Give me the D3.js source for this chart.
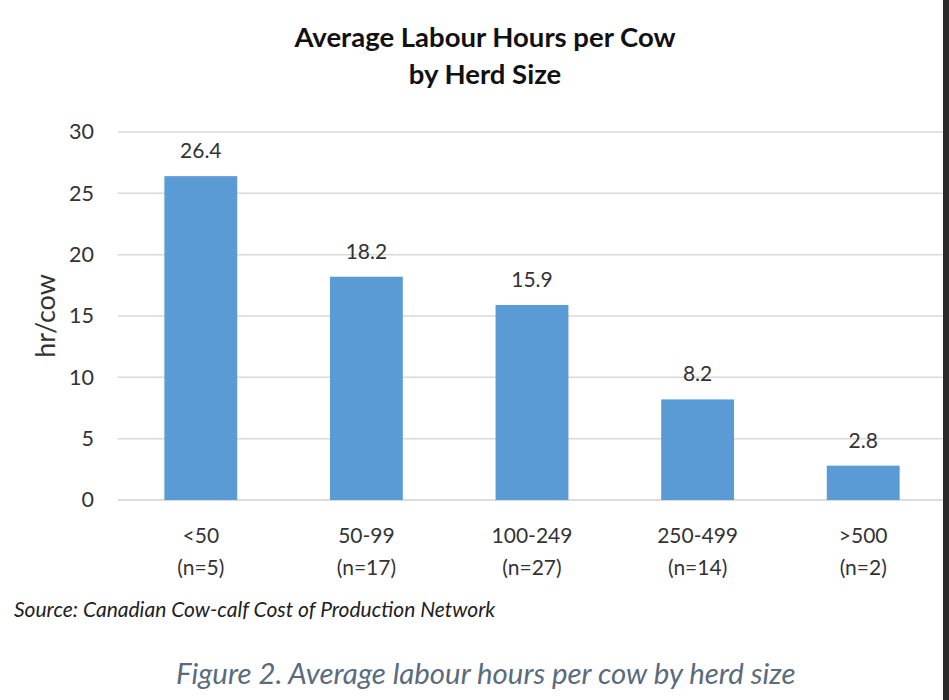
<!DOCTYPE html>
<html><head><meta charset="utf-8">
<script src="https://cdn.jsdelivr.net/npm/d3@7"></script>
<style>body{margin:0;background:#fff;}svg{display:block;}</style>
</head><body>
<script>
const categories = ["<50", "50-99", "100-249", "250-499", ">500"];
const sampleSizes = ["(n=5)", "(n=17)", "(n=27)", "(n=14)", "(n=2)"];
const values = [26.4, 18.2, 15.9, 8.2, 2.8];
const yTicks = [0, 5, 10, 15, 20, 25, 30];
const titleLines = ["Average Labour Hours per Cow", "by Herd Size"];
const yLabel = "hr/cow";
const sourceText = "Source: Canadian Cow-calf Cost of Production Network";
const captionText = "Figure 2. Average labour hours per cow by herd size";

const W = 949, H = 700;
const font = "Lato, 'Open Sans', sans-serif";
const textCol = "#333";
const svg = d3.select("body").append("svg").attr("width", W).attr("height", H);
svg.append("rect").attr("width", W).attr("height", H).attr("fill", "#fff");

const x = d3.scaleBand().domain(categories).range([118, 946]).paddingInner(0.56).paddingOuter(0.28);
const y = d3.scaleLinear().domain([0, 30]).range([500, 132]);

// gridlines
svg.append("g").selectAll("line").data(yTicks).join("line")
  .attr("x1", 118).attr("x2", 946)
  .attr("y1", d => y(d)).attr("y2", d => y(d))
  .attr("stroke", d => d === 0 ? "#d0d0d0" : "#d9d9d9").attr("stroke-width", 1.5);

// y axis labels
const yAxis = d3.axisLeft(y).tickValues(yTicks).tickSize(0).tickPadding(0);
const gy = svg.append("g").attr("transform", "translate(94,0)").call(yAxis);
gy.select(".domain").remove();
gy.selectAll("text").attr("font-family", font).attr("font-size", 21.5).attr("fill", textCol);

// y label
svg.append("text").attr("transform", "translate(55,316) rotate(-90)")
  .attr("text-anchor", "middle").attr("font-family", font).attr("font-size", 27)
  .attr("fill", textCol).text(yLabel);

// bars
svg.append("g").selectAll("rect").data(values).join("rect")
  .attr("x", (d, i) => x(categories[i])).attr("width", x.bandwidth())
  .attr("y", d => y(d)).attr("height", d => y(0) - y(d))
  .attr("fill", "#5b9bd5");

// value labels
svg.append("g").selectAll("text").data(values).join("text")
  .attr("x", (d, i) => x(categories[i]) + x.bandwidth() / 2)
  .attr("y", d => y(d) - 18)
  .attr("text-anchor", "middle").attr("font-family", font).attr("font-size", 21)
  .attr("fill", textCol).text(d => d.toFixed(1));

// x labels
const gx = svg.append("g").selectAll("text").data(categories).join("text")
  .attr("text-anchor", "middle").attr("font-family", font).attr("font-size", 21)
  .attr("fill", textCol);
gx.append("tspan").attr("x", d => x(d) + x.bandwidth() / 2).attr("y", 543).text(d => d);
gx.append("tspan").attr("x", d => x(d) + x.bandwidth() / 2).attr("y", 575).text((d, i) => sampleSizes[i]);

// title
svg.append("g").selectAll("text").data(titleLines).join("text")
  .attr("x", 485).attr("y", (d, i) => 47 + i * 37)
  .attr("text-anchor", "middle").attr("font-family", font).attr("font-weight", "bold")
  .attr("font-size", 27.5).attr("fill", "#111").text(d => d);

// source
svg.append("text").attr("x", 14).attr("y", 617).attr("font-family", font)
  .attr("font-style", "italic").attr("font-size", 21).attr("fill", "#222").text(sourceText);

// caption
svg.append("text").attr("x", 176).attr("y", 684).attr("font-family", font)
  .attr("font-style", "italic").attr("font-size", 29.4).attr("fill", "#5a6b7c").text(captionText);

// right dark edge
svg.append("rect").attr("x", 943).attr("y", 0).attr("width", 6).attr("height", H).attr("fill", "#2b2b2b");
</script>
</body></html>
